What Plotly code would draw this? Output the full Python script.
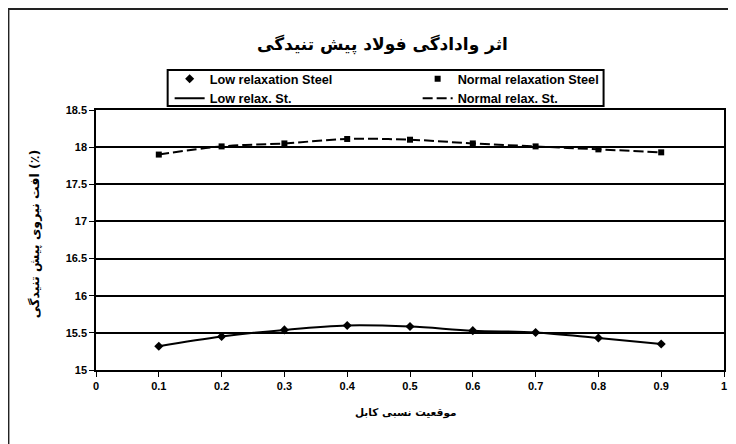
import plotly.graph_objects as go

x_pos = [0.1, 0.2, 0.3, 0.4, 0.5, 0.6, 0.7, 0.8, 0.9]
low_relax = [15.32, 15.45, 15.54, 15.60, 15.585, 15.53, 15.505, 15.43, 15.35]
normal_relax = [17.90, 18.01, 18.05, 18.11, 18.10, 18.05, 18.01, 17.97, 17.93]

title_text = "اثر وادادگی فولاد پیش تنیدگی"
x_title = "موقعیت نسبی کابل"
y_title = "افت نیروی پیش تنیدگی (٪)"
x_ticks = [0, 0.1, 0.2, 0.3, 0.4, 0.5, 0.6, 0.7, 0.8, 0.9, 1]
x_ticktext = ["0", "0.1", "0.2", "0.3", "0.4", "0.5", "0.6", "0.7", "0.8", "0.9", "1"]
y_ticks = [15, 15.5, 16, 16.5, 17, 17.5, 18, 18.5]
y_ticktext = ["15", "15.5", "16", "16.5", "17", "17.5", "18", "18.5"]

names = ["Low relaxation Steel", "Normal relaxation Steel", "Low relax. St.", "Normal relax. St."]

LAT = "Liberation Sans, Arial, sans-serif"
FA = "DejaVu Sans, Noto Sans, sans-serif"

fig = go.Figure()
fig.add_trace(go.Scatter(x=x_pos, y=low_relax, mode="markers", name=names[0],
                         marker=dict(symbol="diamond", size=7, color="black")))
fig.add_trace(go.Scatter(x=x_pos, y=normal_relax, mode="markers", name=names[1],
                         marker=dict(symbol="square", size=6, color="black")))
fig.add_trace(go.Scatter(x=x_pos, y=low_relax, mode="lines", name=names[2],
                         line=dict(color="black", width=2, shape="spline", smoothing=1.0)))
fig.add_trace(go.Scatter(x=x_pos, y=normal_relax, mode="lines", name=names[3],
                         line=dict(color="black", width=2, dash="10px,4px", shape="spline", smoothing=1.0)))

# page body has an 8px margin: work in screen coordinates and convert
OFF = 8
W, H = 728, 436
L, R, T, B = 88, 9, 102, 74
pw = W - L - R
ph = H - T - B

def px(sx):
    return (sx - OFF - L) / pw

def py(sy):
    return (H - B - (sy - OFF)) / ph

fig.update_layout(
    width=W, height=H,
    margin=dict(l=L, r=R, t=T, b=B, pad=0),
    paper_bgcolor="white", plot_bgcolor="white",
    font=dict(family=LAT, size=11, color="black"),
    showlegend=True,
    legend=dict(orientation="h", x=px(170), y=py(64), xanchor="left", yanchor="top",
                entrywidth=203, entrywidthmode="pixels",
                bgcolor="rgba(0,0,0,0)", borderwidth=0,
                font=dict(family=LAT, size=12.7, color="black", weight="bold"),
                traceorder="normal", itemwidth=30),
    xaxis=dict(range=[0, 1], tickmode="array", tickvals=x_ticks, ticktext=x_ticktext,
               showgrid=False, zeroline=False, showline=True, linecolor="black", linewidth=1.5,
               mirror=True, ticks="outside", ticklen=5, tickwidth=1.2, tickcolor="black",
               tickfont=dict(family=LAT, size=11, color="black", weight="bold")),
    yaxis=dict(range=[15, 18.5], tickmode="array", tickvals=y_ticks, ticktext=y_ticktext,
               showgrid=True, gridcolor="black", gridwidth=1.5, zeroline=False,
               showline=True, linecolor="black", linewidth=1.5, mirror=True,
               ticks="outside", ticklen=5, tickwidth=1.2, tickcolor="black",
               tickfont=dict(family=LAT, size=11, color="black", weight="bold")),
    annotations=[
        dict(text=title_text, xref="paper", yref="paper", x=px(384), y=py(44),
             showarrow=False, xanchor="center", yanchor="middle",
             font=dict(family=FA, size=17, color="black", weight="bold")),
        dict(text=x_title, xref="paper", yref="paper", x=px(407), y=py(412),
             showarrow=False, xanchor="center", yanchor="middle",
             font=dict(family=FA, size=10.5, color="black", weight="bold")),
        dict(text=y_title, xref="paper", yref="paper", x=px(34), y=py(234),
             showarrow=False, xanchor="center", yanchor="middle", textangle=-90,
             font=dict(family=FA, size=12.5, color="black", weight="bold")),
    ],
    shapes=[
        dict(type="rect", xref="paper", yref="paper", x0=px(8), x1=px(780), y0=py(480), y1=py(9),
             line=dict(color="#222222", width=2), fillcolor="rgba(0,0,0,0)", layer="above"),
        dict(type="rect", xref="paper", yref="paper", x0=px(168), x1=px(606), y0=py(106), y1=py(70),
             line=dict(color="black", width=2), fillcolor="rgba(0,0,0,0)", layer="above"),
    ],
)

fig.write_html("out.html")
